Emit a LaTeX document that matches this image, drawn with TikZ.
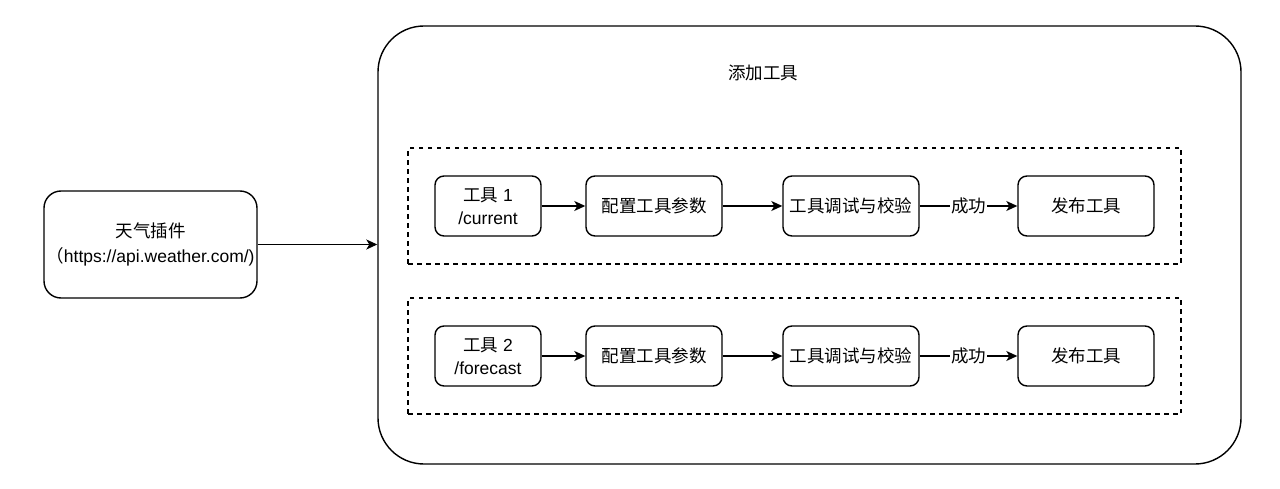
\documentclass[tikz,border=0pt]{standalone}
\usepackage{fontspec}
\setmainfont{Liberation Sans}
\newfontfamily\cjk{Noto Sans CJK SC}
\newcommand{\zh}[1]{{\cjk #1}}
\usetikzlibrary{arrows.meta}
\begin{document}
\begin{tikzpicture}[x=1pt,y=-1pt,
  line width=1.4pt,
  box/.style={draw, rounded corners=9pt, minimum width=136pt, minimum height=60pt,
    align=center, inner sep=0pt, font=\fontsize{17.5}{23}\selectfont},
  group/.style={draw, dashed, dash pattern=on 4.5pt off 4.5pt, line width=1.2pt},
  flow/.style={-{Stealth[length=11pt,width=10pt,inset=3pt]}},
  lbl/.style={fill=white, inner sep=1pt, font=\fontsize{17.5}{23}\selectfont}]
\useasboundingbox (0,0) rectangle (1280,489);

% plugin source box
\node[box, rounded corners=17pt, minimum width=213pt, minimum height=107pt] (plugin) at (150.5,244.5)
  {\zh{天气插件}\\[2pt]\zh{（}https://api.weather.com/)};

% outer container
\node[draw, rounded corners=46pt, minimum width=863pt, minimum height=438pt, inner sep=0pt] (cont) at (809.5,245) {};
\node[font=\fontsize{17.5}{23}\selectfont] (title) at (763,73) {\zh{添加工具}};

% dashed groups
\node[group, minimum width=773pt, minimum height=116pt, inner sep=0pt] (g1) at (794.5,206) {};
\node[group, minimum width=773pt, minimum height=116pt, inner sep=0pt] (g2) at (794.5,356) {};

% row 1
\node[box, minimum width=106pt] (t1) at (488,206) {\zh{工具} 1\\/current};
\node[box] (c1) at (654,206) {\zh{配置工具参数}};
\node[box] (d1) at (851,206) {\zh{工具调试与校验}};
\node[box] (p1) at (1086,206) {\zh{发布工具}};

% row 2
\node[box, minimum width=106pt] (t2) at (488,356) {\zh{工具} 2\\/forecast};
\node[box] (c2) at (654,356) {\zh{配置工具参数}};
\node[box] (d2) at (851,356) {\zh{工具调试与校验}};
\node[box] (p2) at (1086,356) {\zh{发布工具}};

% connectors
\draw[flow] (plugin.east) -- (plugin.east -| cont.west);
\draw[flow] (t1) -- (c1);
\draw[flow] (c1) -- (d1);
\draw[flow] (d1) -- node[lbl] {\zh{成功}} (p1);
\draw[flow] (t2) -- (c2);
\draw[flow] (c2) -- (d2);
\draw[flow] (d2) -- node[lbl] {\zh{成功}} (p2);
\end{tikzpicture}
\end{document}
